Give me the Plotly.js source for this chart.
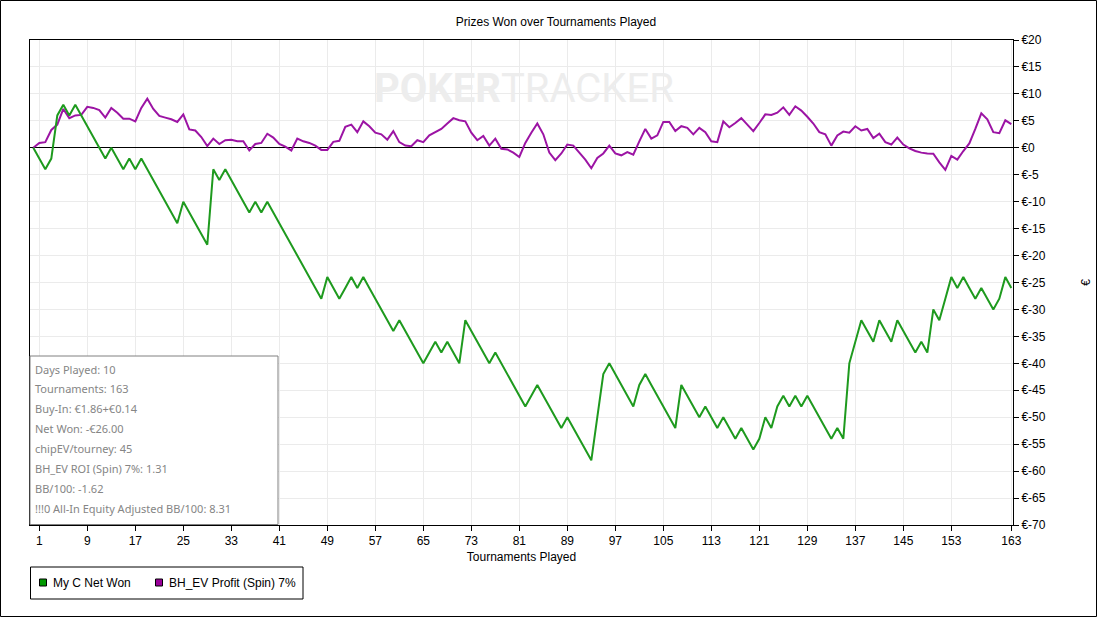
<!DOCTYPE html>
<html>
<head>
<meta charset="utf-8">
<script src="https://cdn.plot.ly/plotly-3.0.1.min.js"></script>
<style>
html,body{margin:0;padding:0;background:#fff;}
#chart{width:1097px;height:617px;}
</style>
</head>
<body>
<div id="chart"></div>
<script>
// ---- data ----
const netWon = [
  0,-2,-4,-2,6,8,6,8,6,4,
  2,0,-2,0,-2,-4,-2,-4,-2,-4,
  -6,-8,-10,-12,-14,-10,-12,-14,-16,-18,
  -4,-6,-4,-6,-8,-10,-12,-10,-12,-10,
  -12,-14,-16,-18,-20,-22,-24,-26,-28,-24,
  -26,-28,-26,-24,-26,-24,-26,-28,-30,-32,
  -34,-32,-34,-36,-38,-40,-38,-36,-38,-36,
  -38,-40,-32,-34,-36,-38,-40,-38,-40,-42,
  -44,-46,-48,-46,-44,-46,-48,-50,-52,-50,
  -52,-54,-56,-58,-50,-42,-40,-42,-44,-46,
  -48,-44,-42,-44,-46,-48,-50,-52,-44,-46,
  -48,-50,-48,-50,-52,-50,-52,-54,-52,-54,
  -56,-54,-50,-52,-48,-46,-48,-46,-48,-46,
  -48,-50,-52,-54,-52,-54,-40,-36,-32,-34,
  -36,-32,-34,-36,-32,-34,-36,-38,-36,-38,
  -30,-32,-28,-24,-26,-24,-26,-28,-26,-28,
  -30,-28,-24,-26
];
const bhEvProfit = [
  0,0.9,1.05,3.3,4.3,7.2,5.5,6.0,6.1,7.6,
  7.4,7.0,5.6,7.4,6.5,5.4,5.4,4.9,7.4,9.1,
  7.2,5.9,5.6,5.3,4.8,6.2,3.4,3.2,2.0,0.3,
  1.7,0.7,1.4,1.5,1.2,1.2,-0.5,0.7,0.9,2.6,
  1.9,0.7,0.2,-0.5,1.7,1.2,0.9,0.4,-0.4,-0.4,
  1.1,1.3,3.9,4.3,2.9,4.9,4.0,2.8,2.5,1.5,
  3.1,1.05,0.4,0.3,1.4,1.05,2.3,2.9,3.5,4.5,
  5.5,5.1,4.9,2.8,1.4,2.2,0.4,1.7,-0.2,-0.3,
  -0.9,-1.7,0.9,2.8,4.5,2.5,-0.9,-2.3,-1.05,0.6,
  0.4,-0.9,-2.2,-3.8,-1.9,-1.05,0.4,-1.05,-1.4,-0.8,
  -1.3,1.2,3.5,1.7,2.3,4.8,4.8,3.1,4.0,3.7,
  2.5,3.7,2.9,1.2,1.05,4.9,3.8,4.6,5.5,4.3,
  3.1,4.6,6.2,6.1,6.5,7.5,6.1,7.7,6.9,5.75,
  4.5,2.9,2.5,0.4,2.3,3.0,2.8,4.0,3.2,3.5,
  1.8,2.6,1.05,0.6,1.9,0.6,-0.1,-0.6,-0.9,-1.05,
  -1.1,-2.7,-4.1,-1.5,-2.2,-0.6,0.8,3.5,6.4,5.3,
  2.9,2.7,5.1,4.4
];
const tournaments = netWon.map((_, i) => i);
const xTickVals = [1,9,17,25,33,41,49,57,65,73,81,89,97,105,113,121,129,137,145,153,163];
const yTickVals = [20,15,10,5,0,-5,-10,-15,-20,-25,-30,-35,-40,-45,-50,-55,-60,-65,-70];
const yTickText = ['€20','€15','€10','€5','€0','€-5','€-10','€-15','€-20','€-25','€-30','€-35','€-40','€-45','€-50','€-55','€-60','€-65','€-70'];
const seriesNames = ['My C Net Won', 'BH_EV Profit (Spin) 7%'];
const infoLines = [
  'Days Played: 10',
  'Tournaments: 163',
  'Buy-In: €1.86+€0.14',
  'Net Won: -€26.00',
  'chipEV/tourney: 45',
  'BH_EV ROI (Spin) 7%: 1.31',
  'BB/100: -1.62',
  '!!!0 All-In Equity Adjusted BB/100: 8.31'
];

// ---- layout helpers (pixel -> paper) ----
const W = 1097, H = 617, L = 30, R = 1013, T = 40, B = 525;
const px = x => (x - L) / (R - L);
const py = y => (B - y) / (B - T);

const GREEN = '#1e9a1e', PURPLE = '#9c14a4';
const tickFont = {family: 'Liberation Sans, Arial, sans-serif', size: 12, color: '#000'};

const traces = [
  {x: tournaments, y: bhEvProfit, type: 'scatter', mode: 'lines', name: seriesNames[1],
   line: {color: PURPLE, width: 2}, showlegend: false, hoverinfo: 'skip'},
  {x: tournaments, y: netWon, type: 'scatter', mode: 'lines', name: seriesNames[0],
   line: {color: GREEN, width: 2}, showlegend: false, hoverinfo: 'skip'}
];

const shapes = [
  // outer border
  {type: 'rect', xref: 'paper', yref: 'paper', x0: px(0.5), x1: px(W - 0.5), y0: py(H - 0.5), y1: py(0.5),
   line: {color: '#000', width: 1}, fillcolor: 'rgba(0,0,0,0)', layer: 'above'},
  // info box
  {type: 'rect', xref: 'paper', yref: 'paper', x0: px(30), x1: px(278), y0: py(524.5), y1: py(356),
   line: {color: '#808080', width: 1}, fillcolor: '#ffffff', layer: 'above'},
  // legend box
  {type: 'rect', xref: 'paper', yref: 'paper', x0: px(30.5), x1: px(303), y0: py(599), y1: py(567),
   line: {color: '#000', width: 1}, fillcolor: '#ffffff', layer: 'above'},
  // legend swatches
  {type: 'rect', xref: 'paper', yref: 'paper', x0: px(39.5), x1: px(46.5), y0: py(586), y1: py(579),
   line: {color: '#000', width: 1}, fillcolor: '#009900', layer: 'above'},
  {type: 'rect', xref: 'paper', yref: 'paper', x0: px(155.5), x1: px(162.5), y0: py(586), y1: py(579),
   line: {color: '#000', width: 1}, fillcolor: '#990099', layer: 'above'}
];

const annotations = [
  // watermark
  {xref: 'paper', yref: 'paper', x: px(524), y: py(89), xanchor: 'center', yanchor: 'middle',
   text: '<b>POKER</b>TRACKER', showarrow: false,
   font: {family: 'Roboto, Liberation Sans, sans-serif', size: 40, color: '#ededed'}},
  // legend labels
  {xref: 'paper', yref: 'paper', x: px(51), y: py(583), xanchor: 'left', yanchor: 'middle',
   text: seriesNames[0], showarrow: false, font: tickFont},
  {xref: 'paper', yref: 'paper', x: px(167), y: py(583), xanchor: 'left', yanchor: 'middle',
   text: seriesNames[1], showarrow: false, font: tickFont}
];
infoLines.forEach((t, i) => {
  annotations.push({xref: 'paper', yref: 'paper', x: px(33), y: py(369 + i * 19.9),
    xanchor: 'left', yanchor: 'middle', text: t, showarrow: false,
    font: {family: 'Noto Sans, Open Sans, sans-serif', size: 11, color: '#858585'}});
});

const layout = {
  width: W, height: H,
  margin: {l: L, r: W - R, t: T, b: H - B, pad: 0},
  paper_bgcolor: '#fff', plot_bgcolor: '#fff',
  showlegend: false,
  title: {text: 'Prizes Won over Tournaments Played', x: 556 / W, xanchor: 'center',
          y: 1 - 22 / H, yanchor: 'middle', yref: 'container', font: tickFont},
  xaxis: {
    range: [-0.55, 163.28], tickmode: 'array', tickvals: xTickVals,
    ticks: 'outside', ticklen: 5, tickcolor: '#000', tickwidth: 1,
    showline: true, linecolor: '#000', linewidth: 1, mirror: true,
    showgrid: true, gridcolor: '#ebebeb', gridwidth: 1, zeroline: false,
    tickfont: tickFont,
    title: {text: 'Tournaments Played', font: tickFont, standoff: 5}
  },
  yaxis: {
    side: 'right', range: [-70, 20], tickmode: 'array', tickvals: yTickVals, ticktext: yTickText,
    ticks: 'outside', ticklen: 5, tickcolor: '#000', tickwidth: 1,
    showline: true, linecolor: '#000', linewidth: 1, mirror: true,
    showgrid: true, gridcolor: '#ebebeb', gridwidth: 1,
    zeroline: true, zerolinecolor: '#000', zerolinewidth: 1,
    tickfont: tickFont,
    title: {text: '€', font: tickFont, standoff: 36}
  },
  shapes: shapes,
  annotations: annotations
};

Plotly.newPlot('chart', traces, layout, {staticPlot: true, displayModeBar: false});
</script>
</body>
</html>
